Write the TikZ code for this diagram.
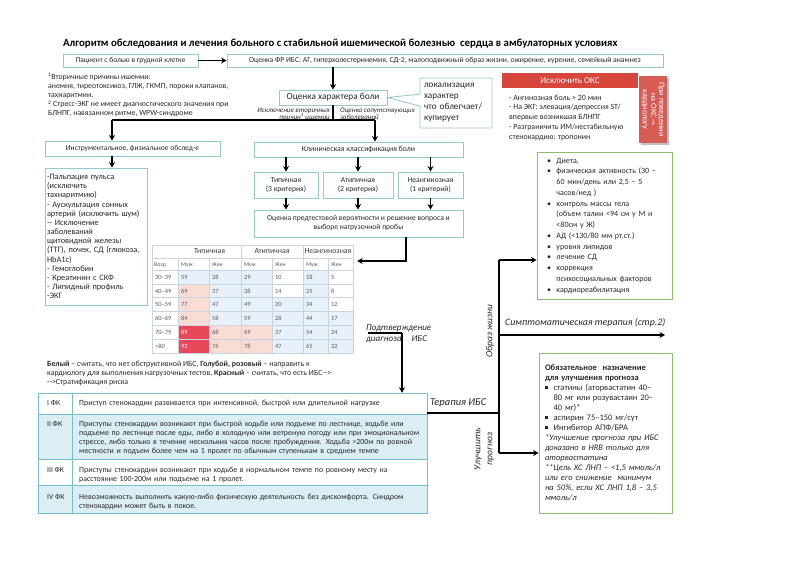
\documentclass[tikz,border=0pt]{standalone}
\usepackage{fontspec}
\setmainfont{Carlito}
\newfontfamily\dejavu{DejaVu Sans}
\usetikzlibrary{arrows.meta,shapes.callouts}
\definecolor{boxblue}{RGB}{150,200,215}
\definecolor{greenb}{RGB}{140,190,110}
\definecolor{redbox}{RGB}{214,70,58}
\definecolor{redboxb}{RGB}{214,92,86}
\definecolor{cW}{RGB}{255,255,255}
\definecolor{cB}{RGB}{232,241,250}
\definecolor{cP}{RGB}{249,221,213}
\definecolor{cR}{RGB}{232,72,90}
\definecolor{tW}{RGB}{90,90,90}
\definecolor{tB}{RGB}{90,90,90}
\definecolor{tP}{RGB}{90,90,90}
\definecolor{tR}{RGB}{255,255,255}
\definecolor{tabline}{RGB}{200,212,224}
\definecolor{fkline}{RGB}{120,190,210}
\definecolor{fkfill}{RGB}{219,238,244}
\definecolor{txt}{RGB}{40,40,40}
\newcommand\fs[2]{\fontsize{#1}{#2}\selectfont}
\newcommand\sqb{\rule[1pt]{2.6pt}{2.6pt}}
\newcommand\tcell[7]{%
  \fill[fill=c#6] (#1,#3) rectangle (#2,#3+13.833);
  \node[tnum,anchor=base west,text=t#6] (#7) at (#1+3,#4) {#5};}
\begin{document}
\begin{tikzpicture}[x=1pt,y=-1pt,
  bbox/.style={draw=boxblue, line width=0.9pt, fill=white, inner sep=0pt, align=center, text=txt},
  gbox/.style={draw=greenb, line width=0.9pt, fill=white, inner ysep=0pt, align=left, text=txt},
  arr/.style={line width=1.4pt, -{Stealth[length=5.5pt,width=6pt]}},
  conn/.style={line width=1.4pt},
  lbl/.style={inner sep=0pt, text=txt},
  tnum/.style={inner sep=0pt, font=\fs{6.4}{7}},
  thead/.style={inner sep=0pt, font=\fs{7.8}{9}, text=black!75},
  fktxt/.style={inner sep=0pt, anchor=west, align=left, text width=345pt, font=\fs{7.9}{9}, text=txt},
  fklab/.style={inner sep=0pt, anchor=west, font=\fs{7.6}{9}, text=txt}]
\useasboundingbox (0,0) rectangle (807,570);
\fill[white] (0,0) rectangle (807,570);

% title
\node[lbl, anchor=west, font=\bfseries\fs{10.8}{12}, text=black] (title) at (63,44)
 {Алгоритм обследования и лечения больного с стабильной ишемической болезнью\ \ сердца в амбулаторных условиях};

% top row
\node[bbox, minimum width=135pt, minimum height=13pt, font=\fs{7.5}{8}] (b1) at (130.5,60.5) {Пациент с болью в грудной клетке};
\node[bbox, minimum width=436pt, minimum height=13pt, font=\fs{7.65}{8}] (b2) at (445,60.5) {Оценка ФР ИБС: АГ, гиперхолестеринемия, СД-2, малоподвижный образ жизни, ожирение, курение, семейный анамнез};
\draw[arr] (b1.east) -- (b2.west);

% notes
\node[lbl, anchor=north west, align=left, font=\fs{7.8}{9.1}] (notes) at (48,73)
 {\textsuperscript{1}Вторичные причины ишемии:\\
  анемия, тиреотоксикоз, ГЛЖ, ГКМП, пороки клапанов,\\
  тахиаритмии.\\
  \textsuperscript{2} Стресс-ЭКГ не имеет диагностического значения при\\
  БЛНПГ, навязанном ритме, WPW-синдроме};

% pain assessment
\node[bbox, minimum width=108pt, minimum height=15pt, font=\fs{9.3}{10}] (b3) at (333,97.5) {Оценка характера боли};
\draw[arr] (b2.south -| b3.north) -- (b3.north);
\node[rectangle callout, draw=boxblue, line width=0.9pt, fill=white, text=txt,
  minimum width=72pt, minimum height=50pt, text width=64pt, inner xsep=4pt, inner ysep=0pt,
  align=left, font=\fs{9.2}{11}, callout absolute pointer={(b3.east)}, callout pointer width=12pt] (call) at (456,103)
 {локализация\\ характер\\ что облегчает/\\ купирует};

\node[lbl, anchor=north east, align=right, font=\itshape\fs{7}{7.4}] (lx1) at (330,107.5) {Исключение вторичных\\ причин\textsuperscript{1} ишемии};
\node[lbl, anchor=north west, align=left, font=\itshape\fs{7}{7.4}] (lx2) at (340,107.5) {Оценка сопутствующих\\ заболеваний};

\coordinate (jL) at (112,120);
\coordinate (jR) at (375,120);
\draw[conn] (b3.south) -- (b3.south |- jL);
\draw[conn] (jL) -- (jR);

% left branch
\node[bbox, minimum width=175pt, minimum height=15pt, font=\fs{7.5}{8}] (b4) at (132.5,148.5) {Инструментальное, физиальное обслед-е};
\draw[arr] (jL) -- (jL |- b4.north);
\node[bbox, minimum width=102pt, minimum height=137pt, text width=98pt, inner xsep=2pt, align=left, font=\fs{8.3}{9.15}] (b5) at (96,236.5)
 {-Пальпация пульса\\ (исключить\\ тахиаритмию)\\ - Аускультация сонных\\ артерий (исключить шум)\\ -{}- Исключение\\ заболеваний\\ щитовидной железы\\ (ТТГ), почек, СД (глюкоза,\\ HbA1c)\\ - Гемоглобин\\ - Креатинин с СКФ\\ - Липидный профиль\\ -ЭКГ};
\draw[arr] (b4.south -| jL) -- (b5.north -| jL);

% middle branch
\node[bbox, minimum width=209pt, minimum height=15pt, font=\fs{7.8}{8}] (b6) at (358.5,149.5) {Клиническая классификация боли};
\draw[arr] (jR) -- (jR |- b6.north);
\node[bbox, minimum width=64pt, minimum height=26pt, font=\fs{7.6}{9}] (b7a) at (286,185) {Типичная\\ (3 критерия)};
\node[bbox, minimum width=70pt, minimum height=26pt, font=\fs{7.6}{9}] (b7b) at (358,185) {Атипичная\\ (2 критерия)};
\node[bbox, minimum width=65pt, minimum height=26pt, font=\fs{7.6}{9}] (b7c) at (430.5,185) {Неангинозная\\ (1 критерий)};
\draw[arr] (b6.south -| b7a.north) -- (b7a.north);
\draw[arr] (b6.south -| b7b.north) -- (b7b.north);
\draw[arr] (b6.south -| b7c.north) -- (b7c.north);
\node[bbox, minimum width=209pt, minimum height=27pt, font=\fs{7.6}{9}] (b8) at (358.5,223.5) {Оценка предтестовой вероятности и решение вопроса и\\ выборе нагрузочной пробы};
\draw[arr] (b7a.south) -- (b8.north -| b7a.south);
\draw[arr] (b7b.south) -- (b8.north -| b7b.south);
\draw[arr] (b7c.south) -- (b8.north -| b7c.south);

% probability table
\node[inner sep=0pt, minimum width=201pt, minimum height=108pt] (tbl) at (252.5,299) {};
\fill[white] (152,245) rectangle (353,270);
\node[thead] (h1) at (209.5,251.5) {Типичная};
\node[thead] (h2) at (272,251.5) {Атипичная};
\node[thead] (h3) at (328,251.5) {Неангинозная};
\foreach \xa/\t [count=\j] in {154/Возр,181/Муж,212/Жен,244/Муж,275/Жен,306/Муж,331/Жен}
  \node[tnum, anchor=base west, text=black!65, font=\fs{5.8}{7}] (sh\j) at (\xa,266.5) {\t};
\foreach \i/\ag/\va/\ka/\vb/\kb/\vc/\kc/\vd/\kd/\ve/\ke/\vf/\kf in {
 0/30–39/59/B/28/B/29/B/10/W/18/B/5/W,
 1/40–49/69/P/37/B/38/B/14/W/25/B/8/W,
 2/50–59/77/P/47/B/49/B/20/B/34/B/12/W,
 3/60–69/84/P/58/B/59/B/28/B/44/B/17/B,
 4/70–79/89/R/68/P/69/P/37/B/54/B/24/B,
 5/>80/93/R/76/P/78/P/47/B/65/B/32/B}{
  \pgfmathsetmacro\ya{270+13.833*\i}
  \pgfmathsetmacro\ym{\ya+9.3}
  \node[tnum, anchor=base west, text=black!65] (age\i) at (155,\ym) {\ag};
  \tcell{178}{209}{\ya}{\ym}{\va}{\ka}{va\i}
  \tcell{209}{241}{\ya}{\ym}{\vb}{\kb}{vb\i}
  \tcell{241}{272}{\ya}{\ym}{\vc}{\kc}{vc\i}
  \tcell{272}{303}{\ya}{\ym}{\vd}{\kd}{vd\i}
  \tcell{303}{328}{\ya}{\ym}{\ve}{\ke}{ve\i}
  \tcell{328}{353}{\ya}{\ym}{\vf}{\kf}{vf\i}
}
\begin{scope}[draw=tabline, line width=0.6pt]
  \foreach \y in {245,258,270,283.83,297.67,311.5,325.33,339.17,353} \draw (152,\y) -- (353,\y);
  \foreach \x in {152,241,303,353} \draw (\x,245) -- (\x,353);
  \foreach \x in {178,209,272,328} \draw (\x,258) -- (\x,353);
\end{scope}

\coordinate (tp) at (406,261);
\draw[arr, shorten >=4pt] (b8.south -| tp) -- (tp) -- (tp -| tbl.east);

% confirm label
\node[lbl, anchor=west, align=left, font=\itshape\fs{9}{11}] (podt) at (366,333.5) {Подтверждение\\ диагноза\hspace{10pt}ИБС};
\coordinate (cf1) at (368,333);
\coordinate (cf2) at (402,333);

% legend text
\node[lbl, anchor=north west, align=left, font=\fs{7.9}{9}] (legend) at (47,361)
 {\textbf{Белый} – считать, что нет обструктивной ИБС, \textbf{Голубой, розовый} – направить к\\
  кардиологу для выполнения нагрузочных тестов, \textbf{Красный} – считать, что есть ИБС-{}->\\
  -{}->Стратификация риска};

% FK table
\node[inner sep=0pt, minimum width=389pt, minimum height=120pt] (fk) at (232.5,453) {};
\fill[fkfill] (38,414) rectangle (427,459);
\fill[fkfill] (38,485) rectangle (427,513);
\begin{scope}[draw=fkline, line width=0.9pt]
  \draw (38,393) rectangle (427,513);
  \foreach \y in {414,459,485} \draw (38,\y) -- (427,\y);
  \draw (72,393) -- (72,513);
\end{scope}
\node[fklab] (fk1l) at (47,403) {I ФК};
\node[fklab] (fk2l) at (47,424) {II ФК};
\node[fklab] (fk3l) at (47,470) {III ФК};
\node[fklab] (fk4l) at (47,497) {IV ФК};
\node[fktxt] (fk1t) at (79,403) {Приступ стенокардии развивается при интенсивной, быстрой или длительной нагрузке};
\node[fktxt] (fk2t) at (79,437.5) {Приступы стенокардии возникают при быстрой ходьбе или подъеме по лестнице, ходьбе или\\
 подъеме по лестнице после еды, либо в холодную или ветреную погоду или при эмоциональном\\
 стрессе, либо только в течение нескольких часов после пробуждения. Ходьба >200м по ровной\\
 местности и подъем более чем на 1 пролет по обычным ступенькам в среднем темпе};
\node[fktxt] (fk3t) at (79,474.5) {Приступы стенокардии возникают при ходьбе в нормальном темпе по ровному месту на\\ расстояние 100-200м или подъеме на 1 пролет.};
\node[fktxt] (fk4t) at (79,501.5) {Невозможность выполнить какую-либо физическую деятельность без дискомфорта. Синдром\\ стенокардии может быть в покое.};

\draw[conn] (cf1) -- (cf2);
\draw[arr] (cf2) -- (cf2 |- fk.north);

% red boxes
\node[fill=redbox, minimum width=136pt, minimum height=15pt, inner sep=0pt, text=white, font=\fs{9}{10}] (oks) at (570,80.5) {Исключить ОКС};
\node[lbl, anchor=north west, align=left, font=\fs{7.9}{9.8}] (okslist) at (509,94.5)
 {- Ангинозная боль > 20 мин\\ - На ЭКГ: элевация/депрессия ST/\\ впервые возникшая БЛНПГ\\ - Разграничить ИМ/нестабильную\\ стенокардию: тропонин};
\fill[black!25] (641,78) rectangle (669,145);
\node[fill=redboxb, minimum width=67pt, minimum height=28pt, inner sep=0pt, rotate=-90, text=white, align=center, font=\fs{8.2}{8.2}] (oksr) at (653,109.5)
 {При поведении\\ на ОКС {\dejavu\fs{7}{8}→}\\ кардиологу};

% right column
\node[gbox, minimum width=135pt, minimum height=147pt, text width=121pt, inner xsep=7pt, font=\fs{8}{10.75}] (g1) at (604.5,225.5)
 {\begin{tabular}{@{\hspace{3pt}}l@{\hspace{5.5pt}}l@{}}
  \textbullet & Диета,\\
  \textbullet & физическая активность (30 –\\
   & 60 мин/день или 2,5 – 5\\
   & часов/нед )\\
  \textbullet & контроль массы тела\\
   & (объем талии <94 см у М и\\
   & <80см у Ж)\\
  \textbullet & АД (<130/80 мм рт.ст.)\\
  \textbullet & уровня липидов\\
  \textbullet & лечение СД\\
  \textbullet & коррекция\\
   & психосоциальных факторов\\
  \textbullet & кардиореабилитация
 \end{tabular}};
\node[gbox, minimum width=133pt, minimum height=160pt, text width=127pt, inner xsep=3pt, font=\fs{8.5}{10}] (g2) at (605.5,433)
 {\begin{tabular}{@{\hspace{3pt}}l@{\hspace{6pt}}l@{}}
  \multicolumn{2}{@{\hspace{3pt}}l@{}}{\textbf{Обязательное\ \ назначение}}\\
  \multicolumn{2}{@{\hspace{3pt}}l@{}}{\textbf{для улучшения прогноза}}\\
  \sqb & статины (аторвастатин 40–\\
   & 80 мг или розувастаин 20–\\
   & 40 мг)*\\
  \sqb & аспирин 75–150 мг/сут\\
  \sqb & Ингибитор АПФ/БРА\\
  \multicolumn{2}{@{\hspace{3pt}}l@{}}{\itshape *Улучшение прогноза при ИБС}\\
  \multicolumn{2}{@{\hspace{3pt}}l@{}}{\itshape доказано в НRВ только для}\\
  \multicolumn{2}{@{\hspace{3pt}}l@{}}{\itshape аторвастатина}\\
  \multicolumn{2}{@{\hspace{3pt}}l@{}}{\itshape **Цель ХС ЛНП – <1,5 ммоль/л}\\
  \multicolumn{2}{@{\hspace{3pt}}l@{}}{\itshape или его снижение\ \ минимум}\\
  \multicolumn{2}{@{\hspace{3pt}}l@{}}{\itshape на 50\%, если ХС ЛНП 1,8 – 3,5}\\
  \multicolumn{2}{@{\hspace{3pt}}l@{}}{\itshape ммоль/л}
 \end{tabular}};

% therapy connectors
\node[lbl, anchor=west, font=\itshape\fs{10.5}{11}] (ter) at (430,403) {Терапия ИБС};
\coordinate (tj) at (499,413);
\coordinate (tv1) at (499,260);
\coordinate (tv2) at (499,453);
\coordinate (ts) at (499,335);
\coordinate (tse) at (665,335);
\draw[conn] (tj -| fk.east) -- (tj);
\draw[conn] (tv1) -- (tv2);
\draw[arr] (tv1) -- (tv1 -| g1.west);
\draw[arr] (ts) -- (tse);
\draw[arr] (tv2) -- (tv2 -| g2.west);
\node[lbl, anchor=west, font=\itshape\fs{9.9}{10}] (sympt) at (505,323) {Симптоматическая терапия (стр.2)};
\node[lbl, rotate=90, font=\itshape\fs{9.5}{10}] (obr) at (490,331) {Образ жизни};
\node[lbl, rotate=90, align=center, font=\itshape\fs{9.5}{12}] (ulu) at (484,449) {Улучшить\\ прогноз};
\end{tikzpicture}
\end{document}
